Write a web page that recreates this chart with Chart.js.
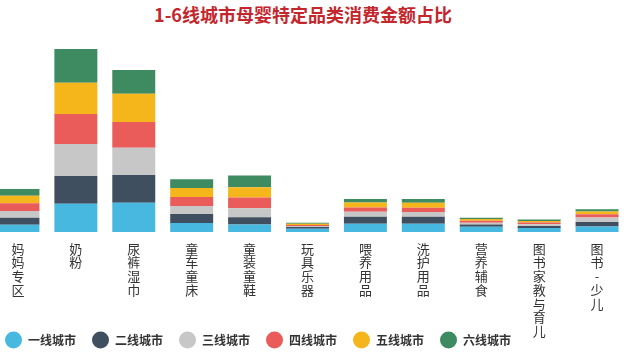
<!DOCTYPE html>
<html lang="zh-CN">
<head>
    <meta charset="UTF-8">
    <meta name="viewport" content="width=device-width, initial-scale=1.0">
    <title>1-6线城市母婴特定品类消费金额占比</title>
    <!-- Importa a biblioteca Chart.js para criar gráficos -->
    <script src="https://cdn.jsdelivr.net/npm/chart.js"></script>
    <style>
        body { margin: 0; background: #fff; overflow: hidden; }
        /* Título acima do gráfico */
        .titulo {
            position: absolute; left: 0; top: 3px; width: 606px;
            text-align: center; color: #c4262e;
            font: bold 18px "Noto Sans CJK SC", sans-serif; line-height: 22px;
        }
        /* O gráfico começa um pouco fora da janela, como no original */
        .grafico { position: absolute; left: -11px; top: 0; width: 637px; height: 356px; }
    </style>
</head>
<body>
    <div class="titulo">1-6线城市母婴特定品类消费金额占比</div>
    <div class="grafico"><canvas id="consumo"></canvas></div>

    <script>
        // Categorias (cada rótulo é escrito na vertical, um caractere por linha)
        const categorias = ['妈妈专区', '奶粉', '尿裤湿巾', '童车童床', '童装童鞋', '玩具乐器',
                            '喂养用品', '洗护用品', '营养辅食', '图书家教与育儿', '图书-少儿'];

        // Valores por nível de cidade (de baixo para cima)
        const cidade1 = [7.3, 28.3, 29.3, 9.0, 7.4, 3.3, 8.3, 8.3, 5.3, 4.0, 5.4];
        const cidade2 = [7.0, 27.7, 27.7, 9.0, 7.4, 1.7, 7.0, 7.0, 2.3, 2.0, 4.6];
        const cidade3 = [6.7, 32.0, 27.3, 8.0, 9.0, 1.0, 5.0, 4.7, 1.7, 1.7, 4.4];
        const cidade4 = [7.7, 30.0, 25.7, 9.0, 10.7, 1.0, 4.3, 4.3, 2.0, 1.7, 3.3];
        const cidade5 = [7.6, 31.3, 28.3, 9.0, 10.3, 1.3, 5.0, 5.0, 1.7, 1.7, 2.7];
        const cidade6 = [6.7, 33.7, 23.7, 8.7, 11.7, 1.0, 3.3, 3.7, 1.3, 1.3, 2.3];

        const series = ['一线城市', '二线城市', '三线城市', '四线城市', '五线城市', '六线城市'];
        const cores = ['#47b9e1', '#3f4f60', '#c7c7c7', '#e95c5a', '#f4b61b', '#3e8a61'];
        const valores = [cidade1, cidade2, cidade3, cidade4, cidade5, cidade6];

        // Deixa os rótulos do eixo x descerem até o fim do canvas (sem corte)
        const rotulosSemCorte = {
            id: 'rotulosSemCorte',
            afterLayout: chart => { chart.scales.x.bottom = chart.height; }
        };

        const ctx = document.getElementById('consumo').getContext('2d');
        new Chart(ctx, {
            type: 'bar',
            data: {
                labels: categorias.map(c => c.split('')), // um caractere por linha
                datasets: series.map((nome, i) => ({
                    label: nome,
                    data: valores[i],
                    backgroundColor: cores[i],
                    borderWidth: 0
                }))
            },
            options: {
                responsive: true,
                maintainAspectRatio: false,
                animation: false,
                layout: { padding: { top: 32 } },
                datasets: { bar: { categoryPercentage: 1, barPercentage: 0.742 } },
                scales: {
                    x: {
                        stacked: true,
                        grid: { display: false, drawTicks: false },
                        border: { display: false },
                        ticks: {
                            autoSkip: false, maxRotation: 0, minRotation: 0,
                            padding: 10, color: '#333',
                            font: { family: '"Noto Sans CJK SC", sans-serif', size: 13, lineHeight: 1.054 }
                        },
                        // altura fixa: o último rótulo invade a área da legenda
                        afterFit: scale => { scale.height = 86; }
                    },
                    y: { stacked: true, display: false, min: 0, max: 200 }
                },
                plugins: {
                    tooltip: { enabled: false },
                    legend: {
                        position: 'bottom',
                        align: 'start',
                        labels: {
                            usePointStyle: true,
                            pointStyle: 'circle',
                            pointStyleWidth: 17,
                            padding: 16,
                            color: '#333',
                            font: { family: '"Noto Sans CJK SC", sans-serif', size: 12, weight: 'bold' }
                        }
                    }
                }
            },
            plugins: [rotulosSemCorte]
        });
    </script>
</body>
</html>
